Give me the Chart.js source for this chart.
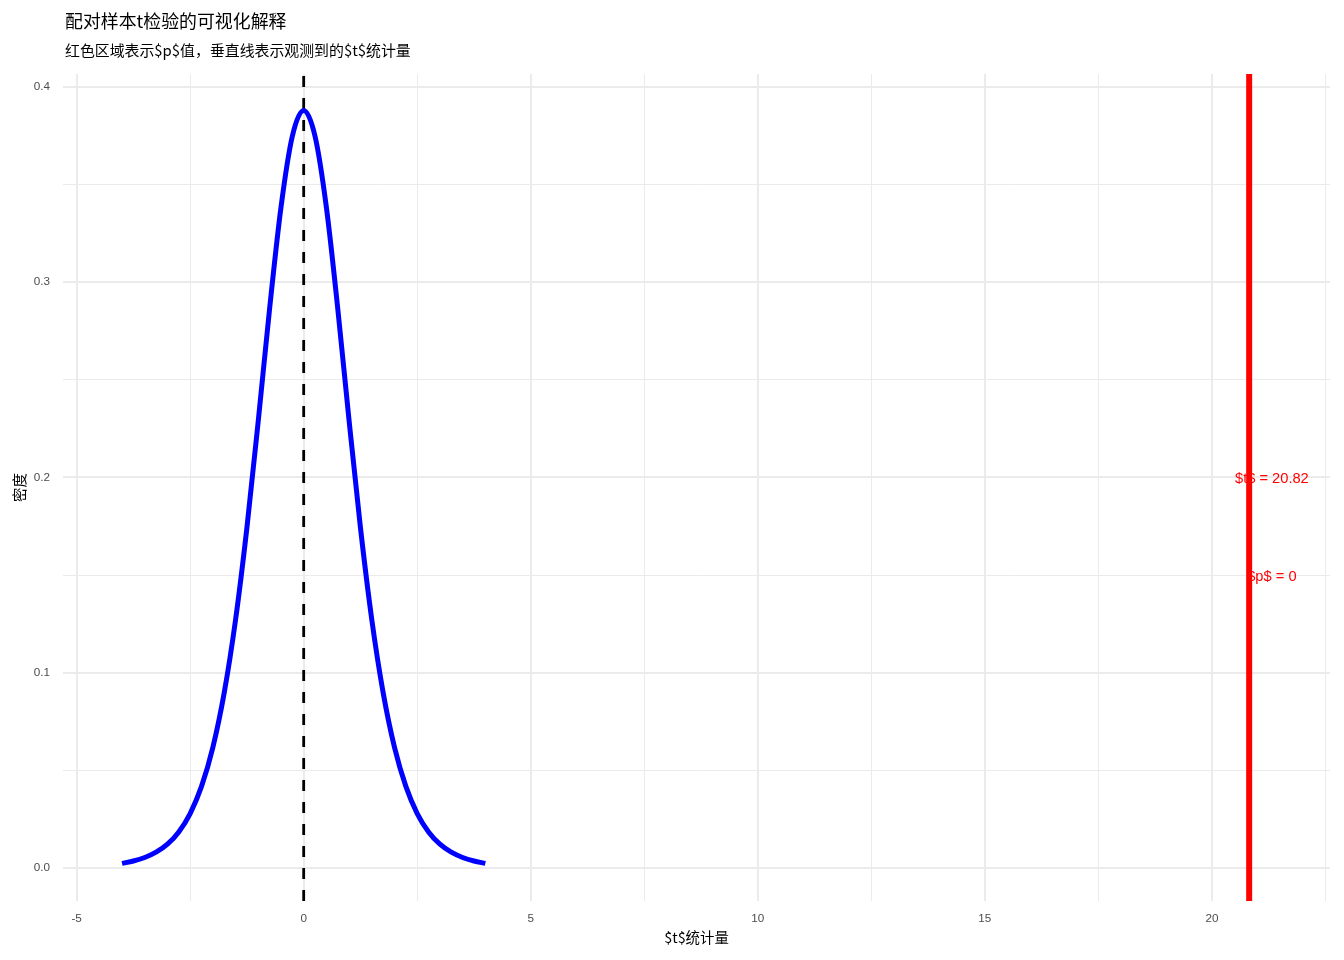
<!DOCTYPE html>
<html>
<head>
<meta charset="utf-8">
<script src="https://cdn.jsdelivr.net/npm/chart.js@4.4.1/dist/chart.umd.min.js"></script>
<style>
  body { margin: 0; background: #fff; }
  #wrap { position: relative; width: 1344px; height: 960px; }
  #title { position: absolute; left: 65px; top: 7px; font: 17.9px "Noto Sans CJK SC", sans-serif; color: #000; }
  #subtitle { position: absolute; left: 65px; top: 39px; font: 14.9px "Noto Sans CJK SC", sans-serif; color: #000; }
</style>
</head>
<body>
<div id="wrap">
  <canvas id="chart" width="1344" height="960"></canvas>
  <div id="title">配对样本t检验的可视化解释</div>
  <div id="subtitle">红色区域表示$p$值，垂直线表示观测到的$t$统计量</div>
</div>
<script>
document.addEventListener("DOMContentLoaded", function () {
  // t-distribution density curve
  const curveX = [-4, -3.75, -3.5, -3.25, -3, -2.75, -2.5, -2.25, -2, -1.75, -1.5, -1.25, -1, -0.75, -0.5, -0.25,
    0, 0.25, 0.5, 0.75, 1, 1.25, 1.5, 1.75, 2, 2.25, 2.5, 2.75, 3, 3.25, 3.5, 3.75, 4];
  const curveY = [0.0023, 0.0035, 0.0053, 0.0080, 0.0121, 0.0184, 0.0278, 0.0417, 0.0617, 0.0897, 0.1271, 0.1743, 0.2291, 0.2866, 0.3384, 0.3748,
    0.3880, 0.3748, 0.3384, 0.2866, 0.2291, 0.1743, 0.1271, 0.0897, 0.0617, 0.0417, 0.0278, 0.0184, 0.0121, 0.0080, 0.0053, 0.0035, 0.0023];

  const tStat = 20.82;
  const annotations = [
    { x: 21.32, y: 0.20, text: "$t$ = 20.82" },
    { x: 21.32, y: 0.15, text: "$p$ = 0" }
  ];

  const xMin = -5.3, xMax = 22.6;
  const yMin = -0.017, yMax = 0.4067;

  const xTicks = [-5, -2.5, 0, 2.5, 5, 7.5, 10, 12.5, 15, 17.5, 20, 22.5];
  const xLabels = ["-5", "", "0", "", "5", "", "10", "", "15", "", "20", ""];
  const yTicks = [0, 0.05, 0.1, 0.15, 0.2, 0.25, 0.3, 0.35, 0.4];
  const yLabels = ["0.0", "", "0.1", "", "0.2", "", "0.3", "", "0.4"];

  const tickFont = { family: "'Liberation Sans', Arial, sans-serif", size: 11.7 };
  const titleFont = { family: "'Noto Sans CJK SC', sans-serif", size: 14.4 };

  const textPlugin = {
    id: "textLabels",
    afterDatasetsDraw(chart) {
      const ctx = chart.ctx;
      const xs = chart.scales.x, ys = chart.scales.y;
      ctx.save();
      ctx.fillStyle = "#FF0000";
      ctx.font = "14.67px 'Liberation Sans', Arial, sans-serif";
      ctx.textAlign = "center";
      ctx.textBaseline = "middle";
      annotations.forEach(a => {
        ctx.fillText(a.text, xs.getPixelForValue(a.x), ys.getPixelForValue(a.y) + 2);
      });
      ctx.restore();
    }
  };

  new Chart(document.getElementById("chart"), {
    type: "line",
    data: {
      datasets: [
        {
          data: curveX.map((x, i) => ({ x: x, y: curveY[i] })),
          borderColor: "#0000FF",
          borderWidth: 5,
          pointRadius: 0,
          cubicInterpolationMode: "monotone"
        },
        {
          data: [{ x: 0, y: yMin }, { x: 0, y: yMax }],
          borderColor: "#000000",
          borderWidth: 2.8,
          borderDash: [11, 11],
          pointRadius: 0
        },
        {
          data: [{ x: tStat, y: yMin }, { x: tStat, y: yMax }],
          borderColor: "#FF0000",
          borderWidth: 6,
          pointRadius: 0
        }
      ]
    },
    options: {
      responsive: false,
      animation: false,
      layout: { padding: { top: 74, right: 14, left: 0, bottom: 0 } },
      plugins: {
        legend: { display: false },
        tooltip: { enabled: false }
      },
      scales: {
        x: {
          type: "linear",
          min: xMin,
          max: xMax,
          afterBuildTicks: scale => { scale.ticks = xTicks.map(v => ({ value: v })); },
          afterFit: scale => { scale.height = 59; },
          border: { display: false },
          grid: {
            color: "#EBEBEB",
            lineWidth: c => (xLabels[c.index] ? 2 : 1),
            drawTicks: false
          },
          ticks: {
            autoSkip: false,
            maxRotation: 0,
            padding: 11,
            color: "#4D4D4D",
            font: tickFont,
            callback: (v, i) => xLabels[i]
          },
          title: {
            display: true,
            text: "$t$统计量",
            color: "#000",
            font: titleFont,
            padding: { top: 2, bottom: 14 }
          }
        },
        y: {
          type: "linear",
          min: yMin,
          max: yMax,
          afterBuildTicks: scale => { scale.ticks = yTicks.map(v => ({ value: v })); },
          afterFit: scale => { scale.width = 63; },
          border: { display: false },
          grid: {
            color: "#EBEBEB",
            lineWidth: c => (yLabels[c.index] ? 2 : 1),
            drawTicks: false
          },
          ticks: {
            autoSkip: false,
            padding: 13,
            color: "#4D4D4D",
            font: tickFont,
            callback: (v, i) => yLabels[i]
          },
          title: {
            display: true,
            text: "密度",
            color: "#000",
            font: titleFont,
            padding: { top: 11, bottom: 0 }
          }
        }
      }
    },
    plugins: [textPlugin]
  });
});
</script>
</body>
</html>
